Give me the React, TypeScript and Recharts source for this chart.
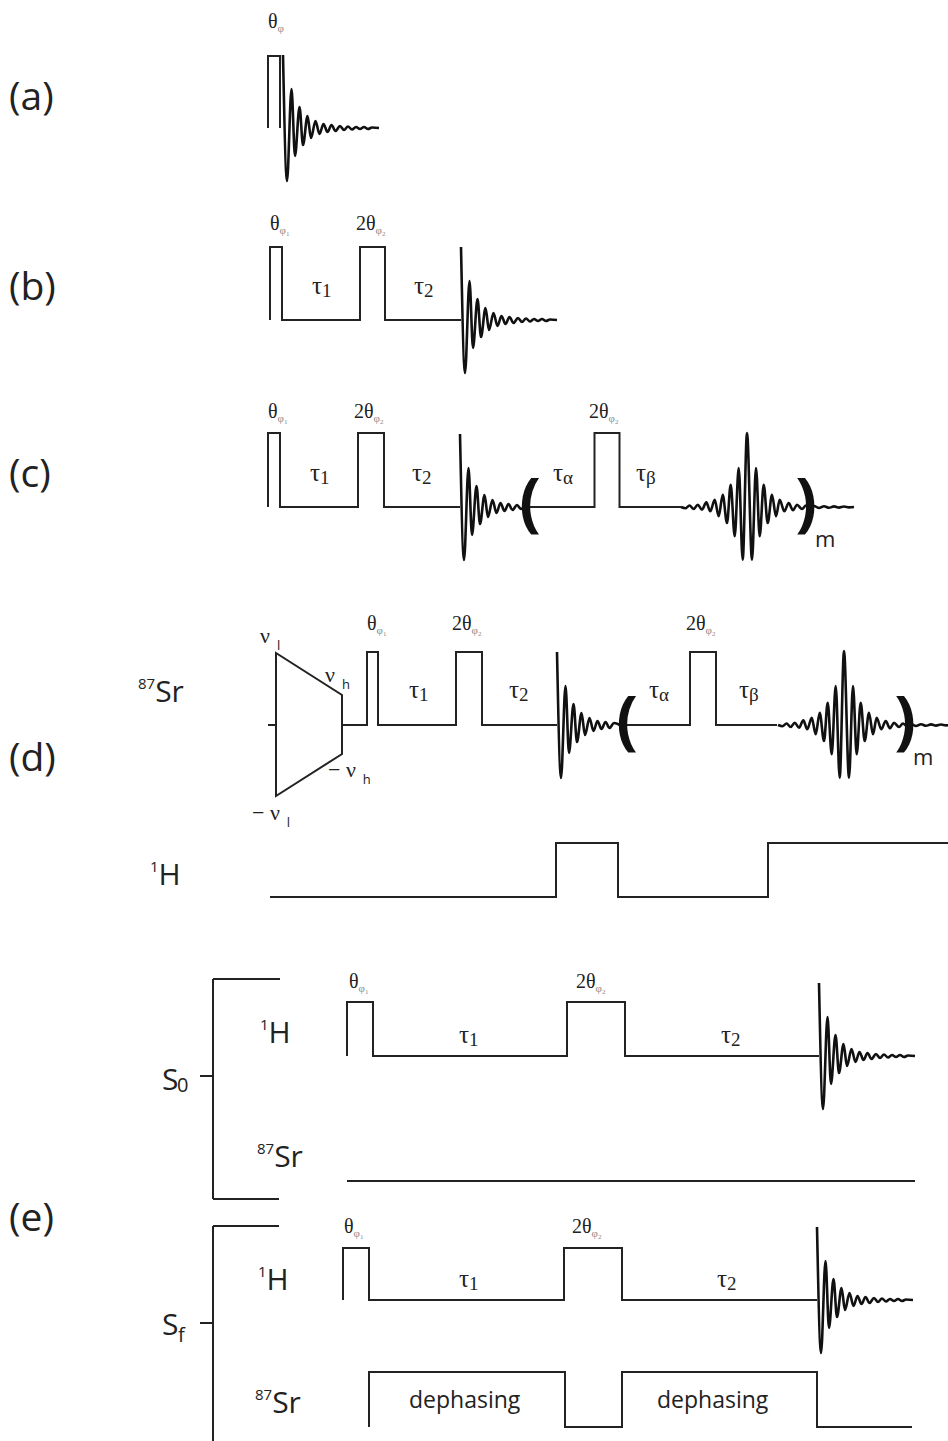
import type { ReactNode } from 'react';
import { ComposedChart, Line, ReferenceDot, ReferenceLine, XAxis, YAxis } from 'recharts';

const W = 948;
const H = 1441;
const INK = '#222';
const SERIF = '"Liberation Serif", "DejaVu Serif", serif';
const SANS = '"Open Sans", "Noto Sans", sans-serif';

type Pt = [number, number]; // [time, level above the row baseline]

// free induction decay: extrema after the excitation edge
const fidShape: Pt[] = [
  [0, 73], [4, -53], [8.5, 39], [12, -28], [16.5, 21], [20, -17], [24.5, 12], [28, -10],
  [32.5, 7], [36.5, -6], [40.5, 4], [44.5, -4], [48.5, 3], [52.5, -3], [57, 2], [61, -2],
  [65, 1.5], [69, -1.5], [73, 1], [77, -1], [81, 1], [85, -1], [89, 0.5], [96, 0],
];

// refocused echo, extrema around the echo top
const echoShape: Pt[] = [
  [-66, 0], [-61.5, -1.2], [-57.5, 1.5], [-53.3, -2], [-49.3, 2.3], [-45, -2.7], [-40.7, 4.7],
  [-36.7, -4.3], [-32.3, 7.3], [-28.3, -9.3], [-24.3, 12.3], [-20, -16], [-16.3, 22.3],
  [-12.3, -29.3], [-8.3, 39], [-4.3, -52.7], [0, 74], [5, -52.7], [9, 39], [12.7, -29.3],
  [16.7, 22.3], [20.7, -16], [25, 12.3], [29, -9.3], [32.7, 7.3], [37.3, -4.3], [41.7, 4],
  [46, -3.3], [50, 2.3], [55, -2], [59, 1.5], [63, -1.2], [67, 1], [72, -1], [77, 0.8],
  [82, -0.8], [87, 0.6], [92, -0.6], [97, 0.5], [102, -0.4], [107, 0],
];

// pulse programmes
const seqA: Pt[] = [[268, 0], [268, 72], [280, 72], [280, 0]];
const seqB: Pt[] = [[270, 0], [270, 73], [282, 73], [282, 0], [360, 0], [360, 73], [385, 73], [385, 0], [461, 0]];
const seqC: Pt[] = [[268, 0], [268, 74], [280, 74], [280, 0], [358, 0], [358, 74], [384, 74], [384, 0], [460, 0]];
const seqCLoop: Pt[] = [[524, 0], [594.5, 0], [594.5, 74], [619.5, 74], [619.5, 0], [681, 0]];
const sweepD: Pt[] = [[268, 0], [276, 0], [276, 72], [342, 30], [342, -29], [276, -71], [276, 0]];
const seqD: Pt[] = [[342, 0], [367, 0], [367, 73], [378, 73], [378, 0], [456, 0], [456, 73], [482, 73], [482, 0], [557, 0]];
const seqDLoop: Pt[] = [[620, 0], [690, 0], [690, 73], [716, 73], [716, 0], [777, 0]];
const decoupleD: Pt[] = [[270, 0], [556, 0], [556, 54], [618, 54], [618, 0], [768, 0], [768, 54], [948, 54]];
const seqE0H: Pt[] = [[347, 0], [347, 54], [373, 54], [373, 0], [567, 0], [567, 54], [625, 54], [625, 0], [819, 0]];
const seqE0Sr: Pt[] = [[347, 0], [915, 0]];
const seqEfH: Pt[] = [[343, 0], [343, 52], [369, 52], [369, 0], [564, 0], [564, 52], [622, 52], [622, 0], [817, 0]];
const seqEfSr: Pt[] = [[369, 0], [369, 55], [565, 55], [565, 0], [622, 0], [622, 55], [817, 55], [817, 0], [912, 0]];

// row baselines
const base = { a: 128, b: 320, c: 507, dSr: 725, dH: 897, e0H: 1056, e0Sr: 1181, efH: 1300, efSr: 1427 };

const toXY = (pts: Pt[], y0: number, t0 = 0) => pts.map(([t, v]) => ({ x: t0 + t, y: y0 - v }));
const fid = (t0: number, y0: number, end?: number) => {
  const pts = end === undefined ? fidShape : [...fidShape.filter(([t]) => t0 + t < end - 2), [end - t0, 0] as Pt];
  return toXY(pts, y0, t0);
};

const pulse = (key: string, data: { x: number; y: number }[]) => (
  <Line key={key} data={data} dataKey="y" type="linear" dot={false} activeDot={false}
    stroke={INK} strokeWidth={2} strokeLinejoin="miter" isAnimationActive={false} />
);
const signal = (key: string, data: { x: number; y: number }[]) => (
  <Line key={key} data={data} dataKey="y" type="monotone" dot={false} activeDot={false}
    stroke="#111" strokeWidth={2.6} isAnimationActive={false} />
);

const note = (key: string, x: number, y: number, draw: (cx: number, cy: number) => ReactNode) => (
  <ReferenceDot key={key} x={x} y={y} r={0} ifOverflow="visible"
    shape={(p: any) => <g>{draw(p.cx, p.cy)}</g>} />
);

const theta = (key: string, x: number, y: number, two: boolean, sub: string) =>
  note(key, x, y, (cx, cy) => (
    <text x={cx} y={cy} fontFamily={SERIF} fontSize={20} fill={INK}>
      {two ? '2θ' : 'θ'}
      <tspan fontSize={11} fill="#8a8a8a" dy={4}>φ</tspan>
      {sub && <tspan fontSize={7} fill="#8a8a8a" dy={2}>{sub}</tspan>}
    </text>
  ));

const tau = (key: string, x: number, y: number, sub: string) =>
  note(key, x, y, (cx, cy) => (
    <text x={cx} y={cy} fontFamily={SERIF} fontSize={25} fill={INK}>
      τ<tspan fontSize={19} dy={3}>{sub}</tspan>
    </text>
  ));

const sans = (key: string, x: number, y: number, text: string, size: number, weight = 400) =>
  note(key, x, y, (cx, cy) => (
    <text x={cx} y={cy} fontFamily={SANS} fontSize={size} fontWeight={weight} fill={INK}>{text}</text>
  ));

const nucleus = (key: string, x: number, y: number, mass: string, sym: string) =>
  note(key, x, y, (cx, cy) => (
    <text x={cx} y={cy} fontFamily={SANS} fontSize={30} fill={INK}>
      <tspan fontSize={15} dy={-13}>{mass}</tspan>
      <tspan dy={13}>{sym}</tspan>
    </text>
  ));

const nu = (key: string, x: number, y: number, minus: boolean, sub: string) =>
  note(key, x, y, (cx, cy) => (
    <text x={cx} y={cy} fontFamily={SERIF} fontSize={22} fill={INK}>
      {minus ? '− ν' : 'ν'}
      <tspan fontFamily={SANS} fontSize={13} dx={7} dy={7}>{sub}</tspan>
    </text>
  ));

const paren = (key: string, x: number, y: number, ch: string) =>
  note(key, x, y, (cx, cy) => (
    <text x={cx} y={cy} fontFamily={SANS} fontSize={64} fontWeight={700} fill="#111" textAnchor="middle">{ch}</text>
  ));

const seg = (key: string, x1: number, y1: number, x2: number, y2: number) => (
  <ReferenceLine key={key} segment={[{ x: x1, y: y1 }, { x: x2, y: y2 }]} stroke={INK} strokeWidth={2} ifOverflow="visible" />
);

export default function App() {
  return (
    <div style={{ position: 'absolute', left: 0, top: 0, width: W, height: H, background: '#fff' }}>
      <ComposedChart width={W} height={H} margin={{ top: 0, right: 0, bottom: 0, left: 0 }}>
        <XAxis dataKey="x" type="number" domain={[0, W]} hide allowDataOverflow />
        <YAxis type="number" domain={[0, H]} reversed hide allowDataOverflow />

        {pulse('a', toXY(seqA, base.a))}
        {signal('a-fid', fid(283, base.a))}

        {pulse('b', toXY(seqB, base.b))}
        {signal('b-fid', fid(461, base.b))}

        {pulse('c', toXY(seqC, base.c))}
        {signal('c-fid', fid(460, base.c, 524))}
        {pulse('c-loop', toXY(seqCLoop, base.c))}
        {signal('c-echo', toXY(echoShape, base.c, 747))}

        {pulse('d-sweep', toXY(sweepD, base.dSr))}
        {pulse('d', toXY(seqD, base.dSr))}
        {signal('d-fid', fid(557, base.dSr, 620))}
        {pulse('d-loop', toXY(seqDLoop, base.dSr))}
        {signal('d-echo', toXY(echoShape, base.dSr, 844))}
        {pulse('d-h', toXY(decoupleD, base.dH))}

        {pulse('e0-h', toXY(seqE0H, base.e0H))}
        {signal('e0-fid', fid(819, base.e0H))}
        {pulse('e0-sr', toXY(seqE0Sr, base.e0Sr))}
        {pulse('ef-h', toXY(seqEfH, base.efH))}
        {signal('ef-fid', fid(817, base.efH))}
        {pulse('ef-sr', toXY(seqEfSr, base.efSr))}

        {/* S0 / Sf brackets */}
        {seg('s0-top', 213, 979, 280, 979)}
        {seg('s0-v', 213, 979, 213, 1199)}
        {seg('s0-bot', 213, 1199, 279, 1199)}
        {seg('s0-tick', 200, 1076, 213, 1076)}
        {seg('sf-top', 213, 1226, 279, 1226)}
        {seg('sf-v', 213, 1226, 213, 1441)}
        {seg('sf-tick', 200, 1323, 213, 1323)}

        {/* row letters */}
        {sans('la', 9, 110, '(a)', 39)}
        {sans('lb', 9, 300, '(b)', 39)}
        {sans('lc', 9, 487, '(c)', 39)}
        {sans('ld', 9, 771, '(d)', 39)}
        {sans('le', 9, 1231, '(e)', 39)}

        {/* (a) */}
        {theta('ta', 268, 28, false, '')}

        {/* (b) */}
        {theta('tb1', 270, 230, false, '1')}
        {theta('tb2', 356, 230, true, '2')}
        {tau('ub1', 312, 294, '1')}
        {tau('ub2', 414, 294, '2')}

        {/* (c) */}
        {theta('tc1', 268, 418, false, '1')}
        {theta('tc2', 354, 418, true, '2')}
        {theta('tc3', 589, 418, true, '2')}
        {tau('uc1', 310, 481, '1')}
        {tau('uc2', 412, 481, '2')}
        {tau('uc3', 553, 481, 'α')}
        {tau('uc4', 636, 481, 'β')}
        {paren('pc1', 530, 524, '(')}
        {paren('pc2', 806, 524, ')')}
        {sans('mc', 815, 547, 'm', 22)}

        {/* (d) */}
        {nucleus('nd1', 138, 702, '87', 'Sr')}
        {nucleus('nd2', 150, 885, '1', 'H')}
        {nu('vd1', 260, 643, false, 'l')}
        {nu('vd2', 325, 682, false, 'h')}
        {nu('vd3', 328, 777, true, 'h')}
        {nu('vd4', 252, 820, true, 'l')}
        {theta('td1', 367, 630, false, '1')}
        {theta('td2', 452, 630, true, '2')}
        {theta('td3', 686, 630, true, '2')}
        {tau('ud1', 409, 698, '1')}
        {tau('ud2', 509, 698, '2')}
        {tau('ud3', 649, 698, 'α')}
        {tau('ud4', 739, 698, 'β')}
        {paren('pd1', 627, 742, '(')}
        {paren('pd2', 905, 742, ')')}
        {sans('md', 913, 765, 'm', 22)}

        {/* (e) */}
        {sans('s0', 162, 1090, 'S', 30)}
        {sans('s0s', 177, 1092, '0', 20)}
        {sans('sf', 162, 1335, 'S', 30)}
        {sans('sfs', 178, 1342, 'f', 20)}
        {nucleus('ne1', 260, 1043, '1', 'H')}
        {nucleus('ne2', 257, 1167, '87', 'Sr')}
        {nucleus('ne3', 258, 1290, '1', 'H')}
        {nucleus('ne4', 255, 1413, '87', 'Sr')}
        {theta('te1', 349, 988, false, '1')}
        {theta('te2', 576, 988, true, '2')}
        {tau('ue1', 459, 1043, '1')}
        {tau('ue2', 721, 1043, '2')}
        {theta('tf1', 344, 1233, false, '1')}
        {theta('tf2', 572, 1233, true, '2')}
        {tau('uf1', 459, 1287, '1')}
        {tau('uf2', 717, 1287, '2')}
        {sans('dp1', 409, 1408, 'dephasing', 23)}
        {sans('dp2', 657, 1408, 'dephasing', 23)}
      </ComposedChart>
    </div>
  );
}
